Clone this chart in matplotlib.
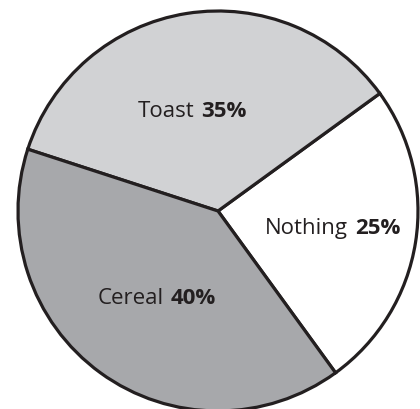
import numpy as np
import matplotlib
matplotlib.use("Agg")
import matplotlib.pyplot as plt
from matplotlib.offsetbox import TextArea, HPacker, AnnotationBbox

categories = ["Nothing", "Toast", "Cereal"]
values = [25, 35, 40]
colors = ["#ffffff", "#d1d2d4", "#a7a8ab"]
label_radius = [0.58, 0.52, 0.53]
label_angle_shift = [1.0, 5.6, 0.5]

W, H = 420, 410
cx, cy, R = 218, 212, 200  # pixel center (from top) and radius

fig = plt.figure(figsize=(W / 100, H / 100), dpi=100)
ax = fig.add_axes([0, 0, 1, 1])

wedges, _ = ax.pie(values, colors=colors, startangle=-54, counterclock=True,
                   radius=1.0, center=(0, 0), frame=True,
                   wedgeprops=dict(edgecolor="#231f20", linewidth=2.3))
ax.set_xlim(-cx / R, (W - cx) / R)
ax.set_ylim(-(H - cy) / R, cy / R)
ax.set_aspect("equal")
ax.axis("off")

fam = "Open Sans"
for w, cat, val, lr, sh in zip(wedges, categories, values, label_radius, label_angle_shift):
    mid = np.deg2rad((w.theta1 + w.theta2) / 2 + sh)
    x, y = lr * np.cos(mid), lr * np.sin(mid)
    t1 = TextArea(cat, textprops=dict(fontsize=16, family=fam, color="#231f20"))
    t2 = TextArea(f"{val}%", textprops=dict(fontsize=16, family=fam, weight="bold", color="#231f20"))
    box = HPacker(children=[t1, t2], sep=5, pad=0, align="baseline")
    ab = AnnotationBbox(box, (x, y), frameon=False, box_alignment=(0.5, 0.5), pad=0)
    ax.add_artist(ab)

fig.savefig("out.png", dpi=100)
